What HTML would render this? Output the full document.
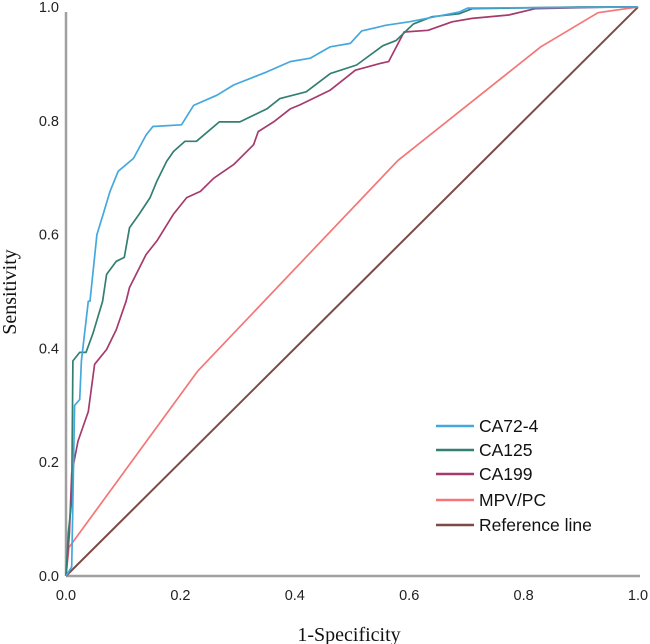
<!DOCTYPE html>
<html><head><meta charset="utf-8"><style>
body{margin:0;background:#fff;}
svg{display:block;}
</style></head><body>
<svg id="chart" width="650" height="644" xmlns="http://www.w3.org/2000/svg"></svg>
<script>
const xTicks=[0,0.2,0.4,0.6,0.8,1.0];
const yTicks=[0,0.2,0.4,0.6,0.8,1.0];
const seriesNames=["CA72-4","CA125","CA199","MPV/PC","Reference line"];
const seriesColors=["#45a8dd","#337f72","#a63a6c","#f47676","#7d4b46"];
const ca724X=[0,0.01,0.012,0.015,0.024,0.027,0.039,0.042,0.054,0.065,0.077,0.091,0.118,0.14,0.152,0.202,0.223,0.264,0.293,0.351,0.392,0.427,0.462,0.497,0.517,0.56,0.6,0.687,0.702,1];
const ca724Y=[0,0.016,0.133,0.30,0.31,0.378,0.483,0.483,0.60,0.636,0.676,0.711,0.734,0.775,0.79,0.793,0.827,0.845,0.863,0.886,0.904,0.91,0.93,0.936,0.958,0.968,0.974,0.991,0.998,1];
const ca125X=[0,0.004,0.01,0.012,0.024,0.035,0.047,0.064,0.071,0.088,0.102,0.111,0.128,0.147,0.159,0.176,0.188,0.208,0.228,0.268,0.304,0.351,0.374,0.42,0.462,0.508,0.554,0.577,0.607,0.64,0.687,0.71,0.9,1];
const ca125Y=[0,0.075,0.133,0.378,0.393,0.393,0.426,0.483,0.53,0.553,0.56,0.612,0.636,0.665,0.694,0.729,0.746,0.764,0.764,0.798,0.798,0.821,0.839,0.851,0.883,0.898,0.932,0.941,0.970,0.983,0.988,0.997,1,1];
const ca199X=[0,0.006,0.01,0.021,0.039,0.05,0.071,0.088,0.105,0.111,0.14,0.159,0.188,0.211,0.235,0.258,0.293,0.328,0.336,0.363,0.392,0.409,0.462,0.506,0.55,0.564,0.591,0.633,0.675,0.71,0.774,0.82,0.955,1];
const ca199Y=[0,0.075,0.18,0.237,0.289,0.372,0.398,0.433,0.483,0.507,0.565,0.589,0.636,0.665,0.676,0.699,0.723,0.758,0.781,0.798,0.821,0.828,0.854,0.889,0.901,0.904,0.956,0.959,0.974,0.98,0.986,0.997,1,1];
const mpvX=[0,0.005,0.23,0.58,0.83,0.93,1];
const mpvY=[0,0.05,0.36,0.73,0.93,0.99,1];
const refX=[0,1];
const refY=[0,1];

const NS="http://www.w3.org/2000/svg";
const svg=document.getElementById('chart');
const X0=66,X1=638,Y0=576,Y1=7;
const sx=v=>X0+v*(X1-X0);
const sy=v=>Y0-v*(Y0-Y1);
function mk(tag,attrs,parent){const e=document.createElementNS(NS,tag);for(const k in attrs)e.setAttribute(k,attrs[k]);(parent||svg).appendChild(e);return e;}

let ax=mk('line',{x1:X0,y1:12,x2:X0,y2:Y0,stroke:'#a0a0a0','stroke-width':2.5});


ax=mk('line',{x1:X0,y1:Y0,x2:X1+2,y2:Y0,stroke:'#a0a0a0','stroke-width':2.5});



xTicks.forEach(t=>{const e=mk('text',{x:sx(t),y:Y0+24,'text-anchor':'middle','font-family':'Liberation Sans, sans-serif','font-size':14.5,fill:'#222'});e.textContent=t.toFixed(1);

});
yTicks.forEach(t=>{const e=mk('text',{x:X0-7,y:sy(t)+5,'text-anchor':'end','font-family':'Liberation Sans, sans-serif','font-size':14.5,fill:'#222'});e.textContent=t.toFixed(1);

});

let tt=mk('text',{x:349,y:641,'text-anchor':'middle','font-family':'Liberation Serif, serif','font-size':20,fill:'#111'});tt.textContent='1-Specificity';


tt=mk('text',{x:0,y:0,'text-anchor':'middle','font-family':'Liberation Serif, serif','font-size':20,fill:'#111',transform:'translate(16,292) rotate(-90)'});tt.textContent='Sensitivity';



const allX=[ca724X,ca125X,ca199X,mpvX,refX], allY=[ca724Y,ca125Y,ca199Y,mpvY,refY];
const order=[4,3,2,1,0];
const lineNames=['ca72-4-curve','ca125-curve','ca199-curve','mpv-pc-curve','reference-line'];
order.forEach(i=>{const pts=allX[i].map((v,j)=>sx(v).toFixed(1)+','+sy(allY[i][j]).toFixed(1)).join(' ');
const p=mk('polyline',{points:pts,fill:'none',stroke:seriesColors[i],'stroke-width':i==4?2:1.7,'stroke-linejoin':'round'});

});

const legY=[426,450,474,500,525];
seriesNames.forEach((n,i)=>{const g=mk('g',{});


mk('line',{x1:436,y1:legY[i],x2:474,y2:legY[i],stroke:seriesColors[i],'stroke-width':2.5},g);
const t=mk('text',{x:479,y:legY[i]+6,'font-family':'Liberation Sans, sans-serif','font-size':17.5,fill:'#111'},g);t.textContent=n;});
</script>
</body></html>
